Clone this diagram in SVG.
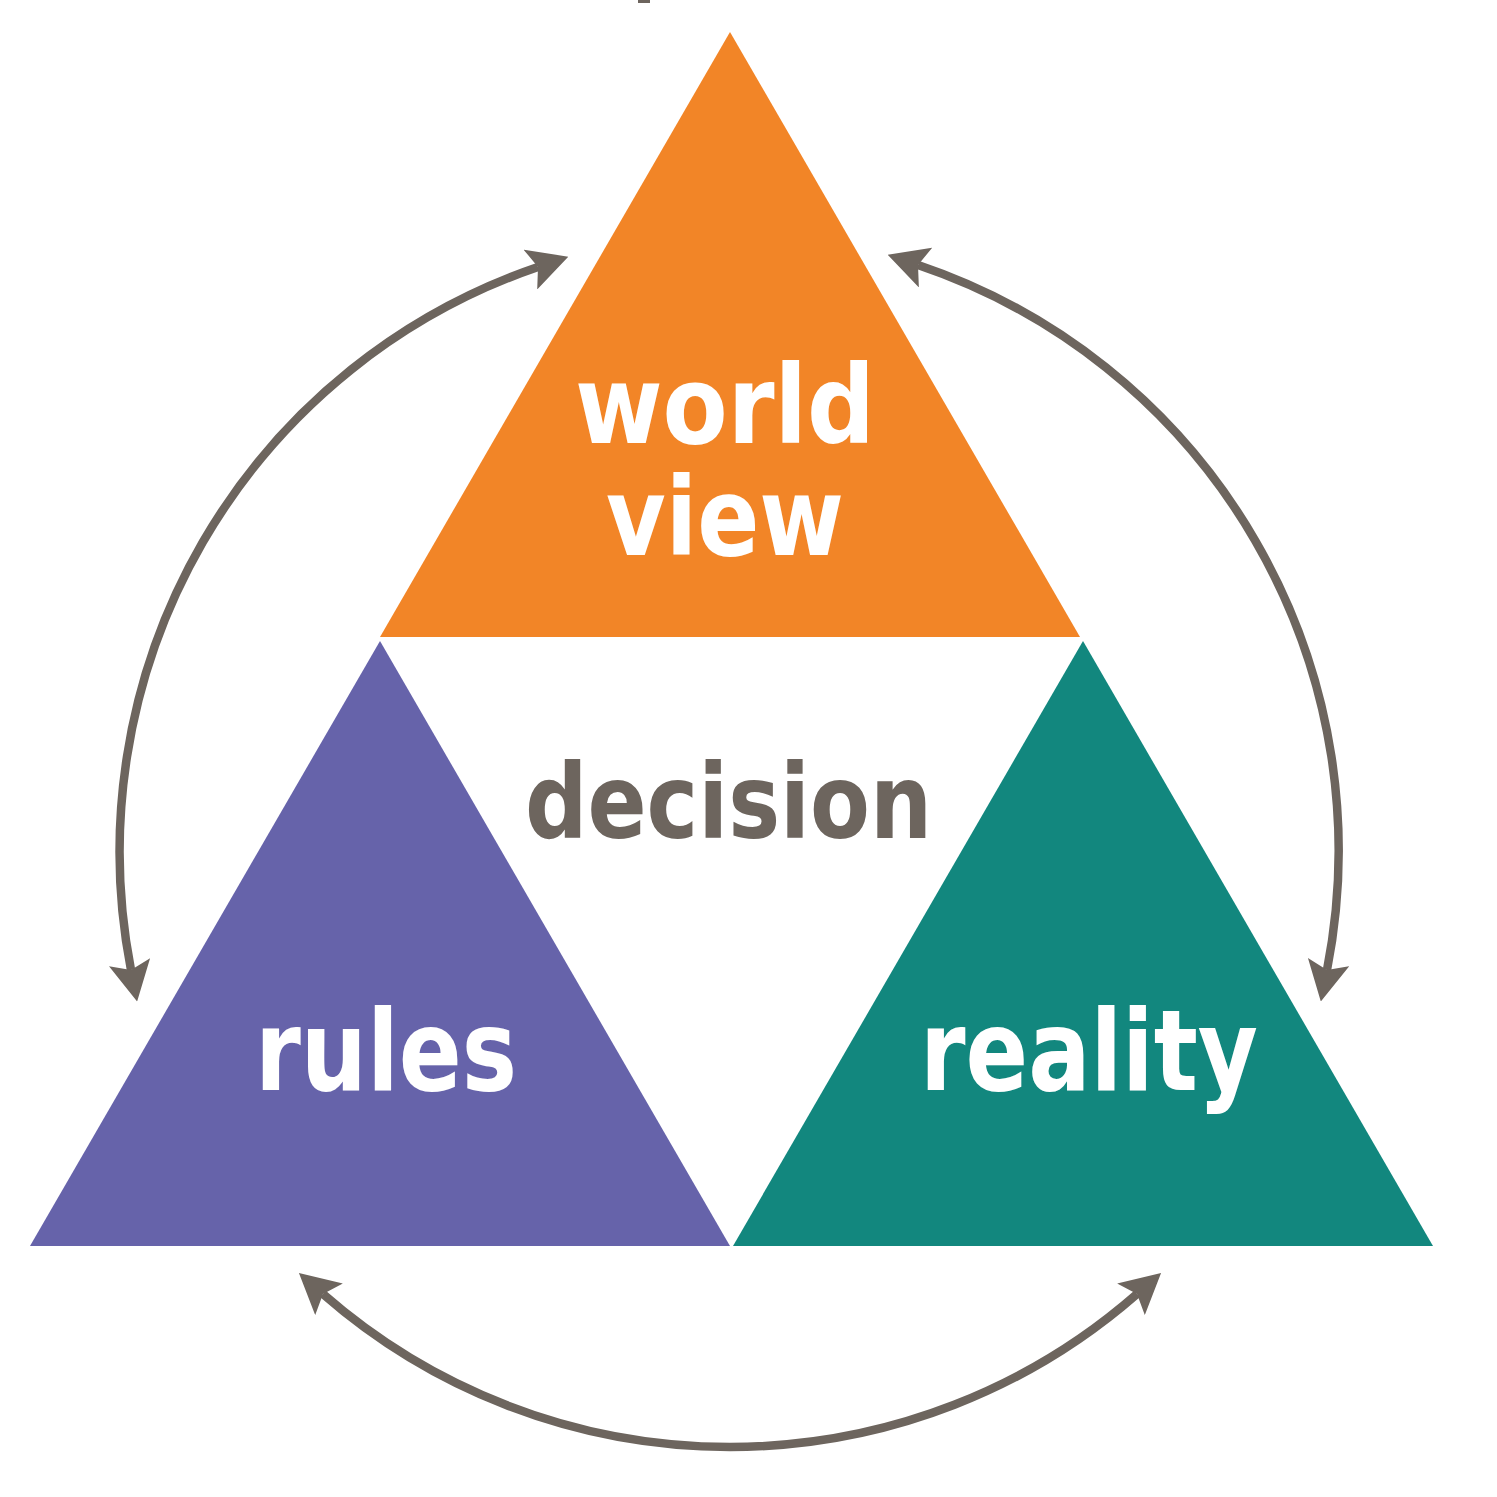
<svg xmlns="http://www.w3.org/2000/svg" width="1497" height="1497" viewBox="0 0 1497 1497">
<style>
.lbl{font-family:"DejaVu Sans Condensed","DejaVu Sans",Verdana,sans-serif;font-weight:bold}
.w{fill:#ffffff}
.g{fill:#6D655E}
.arc{fill:none;stroke:#6D655E;stroke-width:8.5}
</style>
<defs>
<marker id="ah" markerUnits="userSpaceOnUse" viewBox="0 0 40 42" markerWidth="40" markerHeight="42" refX="8" refY="21" orient="auto-start-reverse">
<path d="M0,0 L40,21 L0,42 L8,21 z" fill="#6D655E"/>
</marker>
</defs>
<rect width="1497" height="1497" fill="#ffffff"/>
<rect x="638" y="0" width="12" height="3" fill="#6D655E"/>
<g id="connectors">
<path class="arc" d="M538 267 A618 618 0 0 0 131 970" marker-start="url(#ah)" marker-end="url(#ah)"/>
<path class="arc" d="M918 265 A618 618 0 0 1 1327 970" marker-start="url(#ah)" marker-end="url(#ah)"/>
<path class="arc" d="M323 1294 A618 618 0 0 0 1137 1294" marker-start="url(#ah)" marker-end="url(#ah)"/>
</g>
<g id="worldview">
<polygon points="730,32 1080,637 380,637" fill="#F28527"/>
<text class="lbl w" x="575" y="443" font-size="108" textLength="300" lengthAdjust="spacingAndGlyphs">world</text>
<text class="lbl w" x="606" y="555" font-size="108" textLength="238" lengthAdjust="spacingAndGlyphs">view</text>
</g>
<g id="rules">
<polygon points="380,641 730,1246 30,1246" fill="#6663AA"/>
<text class="lbl w" x="255" y="1090" font-size="112" textLength="262" lengthAdjust="spacingAndGlyphs">rules</text>
</g>
<g id="reality">
<polygon points="1083,641 1433,1246 733,1246" fill="#12877E"/>
<text class="lbl w" x="920" y="1090" font-size="112" textLength="338" lengthAdjust="spacingAndGlyphs">reality</text>
</g>
<g id="decision">
<text class="lbl g" x="525" y="838" font-size="103" textLength="407" lengthAdjust="spacingAndGlyphs">decision</text>
</g>
</svg>
